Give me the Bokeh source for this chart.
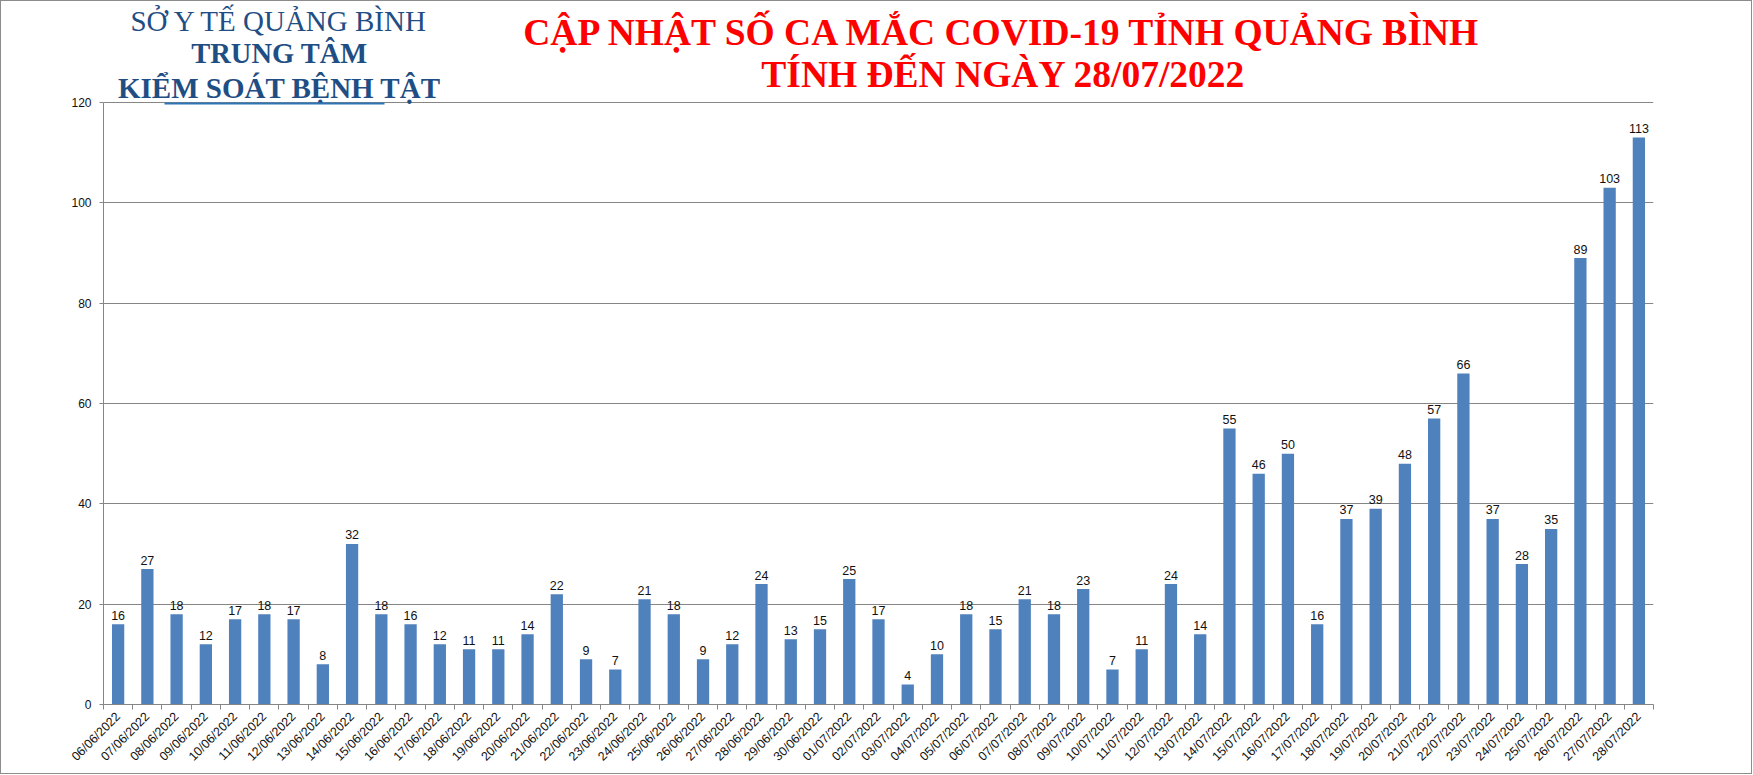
import math
from bokeh.plotting import figure
from bokeh.models import FixedTicker, Label, BoxAnnotation, ColumnDataSource, Range1d
from bokeh.core.properties import value
from bokeh.embed import file_html
from bokeh.resources import INLINE

dates = ["06/06/2022", "07/06/2022", "08/06/2022", "09/06/2022", "10/06/2022",
         "11/06/2022", "12/06/2022", "13/06/2022", "14/06/2022", "15/06/2022",
         "16/06/2022", "17/06/2022", "18/06/2022", "19/06/2022", "20/06/2022",
         "21/06/2022", "22/06/2022", "23/06/2022", "24/06/2022", "25/06/2022",
         "26/06/2022", "27/06/2022", "28/06/2022", "29/06/2022", "30/06/2022",
         "01/07/2022", "02/07/2022", "03/07/2022", "04/07/2022", "05/07/2022",
         "06/07/2022", "07/07/2022", "08/07/2022", "09/07/2022", "10/07/2022",
         "11/07/2022", "12/07/2022", "13/07/2022", "14/07/2022", "15/07/2022",
         "16/07/2022", "17/07/2022", "18/07/2022", "19/07/2022", "20/07/2022",
         "21/07/2022", "22/07/2022", "23/07/2022", "24/07/2022", "25/07/2022",
         "26/07/2022", "27/07/2022", "28/07/2022"]
cases = [16, 27, 18, 12, 17, 18, 17, 8, 32, 18,
         16, 12, 11, 11, 14, 22, 9, 7, 21, 18,
         9, 12, 24, 13, 15, 25, 17, 4, 10, 18,
         15, 21, 18, 23, 7, 11, 24, 14, 55, 46,
         50, 16, 37, 39, 48, 57, 66, 37, 28, 35,
         89, 103, 113]
y_ticks = [0, 20, 40, 60, 80, 100, 120]

title_lines = ["CẬP NHẬT SỐ CA MẮC COVID-19 TỈNH QUẢNG BÌNH", "TÍNH ĐẾN NGÀY 28/07/2022"]
org_lines = ["SỞ Y TẾ QUẢNG BÌNH", "TRUNG TÂM", "KIỂM SOÁT BỆNH TẬT"]

n = len(dates)
idx = list(range(n))
src = ColumnDataSource(dict(x=idx, y=cases, label=[str(c) for c in cases]))

W, H = 1752, 774
LEFT, RIGHT, TOP_AXIS, BOTTOM = 102, 1652, 101, 703   # page pixels of the value axis
FRAME_TOP = 2
y_max = 120 * (BOTTOM - FRAME_TOP) / (BOTTOM - TOP_AXIS)

p = figure(width=W, height=H, output_backend="svg", toolbar_location=None,
           x_range=Range1d(-0.5, n - 0.5), y_range=Range1d(0, y_max),
           min_border_left=LEFT, min_border_right=W - RIGHT, min_border_top=FRAME_TOP,
           min_border_bottom=H - BOTTOM)
p.styles = {"border": "1px solid #8c8c8c", "box-sizing": "border-box"}
p.outline_line_color = None
p.background_fill_color = "white"
p.border_fill_color = "white"

p.vbar(x="x", top="y", width=0.42, source=src, fill_color="#4F81BD", line_color=None)
p.text(x="x", y="y", text="label", source=src, text_align="center",
       text_baseline="alphabetic", y_offset=-9, text_font_size="12.5px",
       text_font=value("Liberation Sans"), text_color="#111111")

GRAY = "#868686"
p.xgrid.visible = False
p.ygrid.grid_line_color = GRAY
p.ygrid.grid_line_width = 1

p.yaxis.ticker = FixedTicker(ticks=y_ticks)
p.yaxis.bounds = (0, 120)
p.yaxis.axis_line_color = GRAY
p.yaxis.major_tick_line_color = GRAY
p.yaxis.major_tick_out = 4
p.yaxis.major_tick_in = 0
p.yaxis.minor_tick_line_color = None
p.yaxis.major_label_text_font = "Liberation Sans"
p.yaxis.major_label_text_font_size = "12px"
p.yaxis.major_label_text_color = "#111111"
p.yaxis.major_label_standoff = 8

p.xaxis.ticker = FixedTicker(ticks=idx, minor_ticks=[i - 0.5 for i in range(n + 1)])
p.xaxis.major_label_overrides = {i: d for i, d in enumerate(dates)}
p.xaxis.major_label_orientation = math.pi / 4
p.xaxis.axis_line_color = GRAY
p.xaxis.major_tick_line_color = None
p.xaxis.minor_tick_line_color = GRAY
p.xaxis.minor_tick_out = 5
p.xaxis.minor_tick_in = 0
p.xaxis.major_label_text_font = "Liberation Sans"
p.xaxis.major_label_text_font_size = "12.5px"
p.xaxis.major_label_text_color = "#111111"
p.xaxis.major_label_standoff = 4

def sx(px):
    return px - LEFT

def sy(py):
    return BOTTOM - py

for txt, by in zip(title_lines, [31, 73]):
    p.add_layout(Label(x=sx(1002), y=sy(by), x_units="screen", y_units="screen", text=txt,
                       text_align="center", text_baseline="alphabetic",
                       text_font="Liberation Serif", text_font_style="bold",
                       text_font_size="37.5px", text_color="#FF0000"))

BLUE = "#1F4E84"
for txt, by, st, fs in zip(org_lines, [19, 52, 86], ["normal", "bold", "bold"],
                           ["29px", "28.5px", "29px"]):
    p.add_layout(Label(x=sx(278), y=sy(by), x_units="screen", y_units="screen", text=txt,
                       text_align="center", text_baseline="alphabetic",
                       text_font="Liberation Serif", text_font_style=st,
                       text_font_size=fs, text_color=BLUE))

p.add_layout(BoxAnnotation(left=sx(163), right=sx(383), bottom=sy(103), top=sy(101),
                           left_units="screen", right_units="screen",
                           bottom_units="screen", top_units="screen",
                           fill_color="#2E75B6", fill_alpha=1, line_color=None))

open("out.html", "w").write(file_html(p, INLINE))
